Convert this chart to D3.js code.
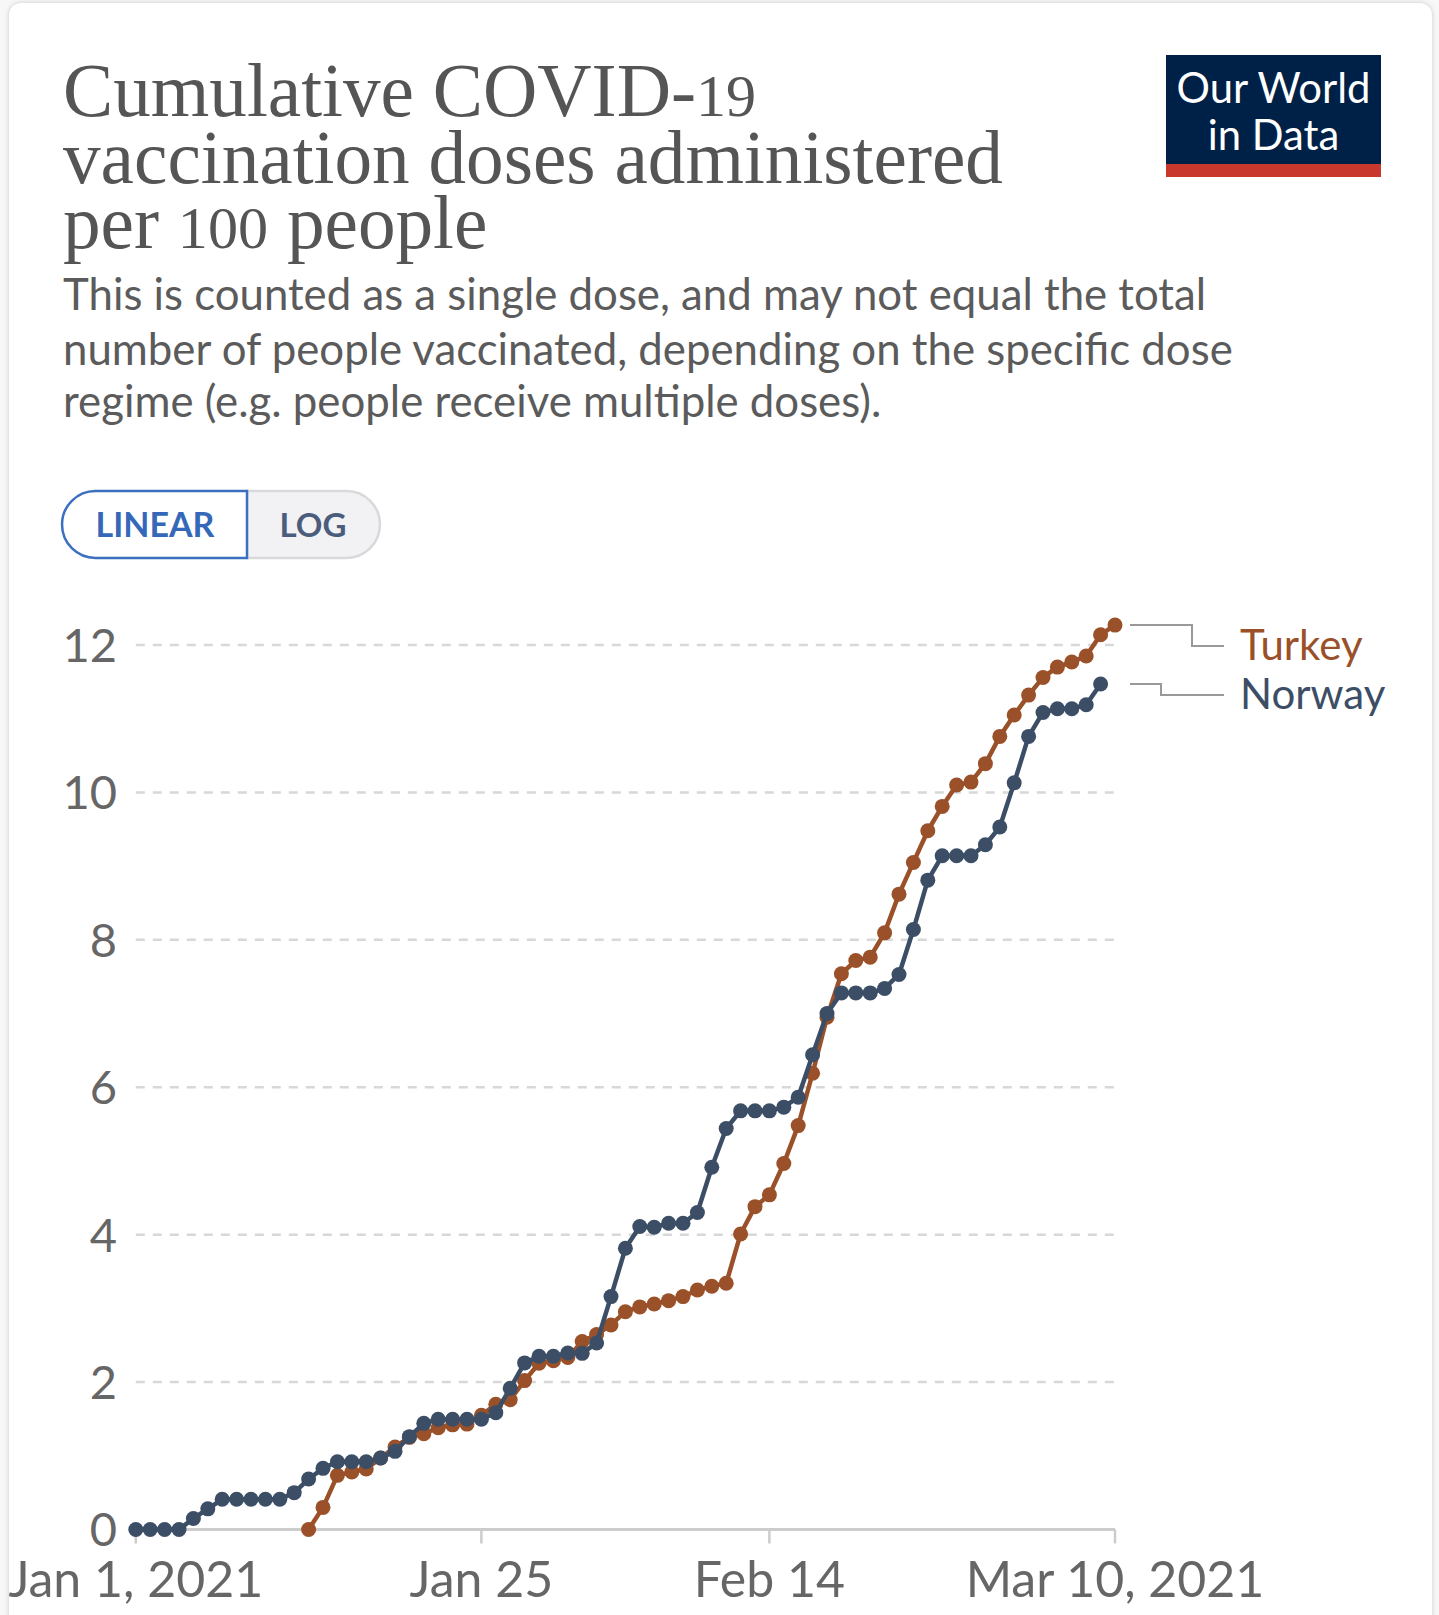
<!DOCTYPE html>
<html lang="en">
<head>
<meta charset="UTF-8">
<script src="https://d3js.org/d3.v7.min.js"></script>
<title>Cumulative COVID-19 vaccination doses administered per 100 people</title>
<style>
  html, body { margin: 0; padding: 0; background: #f7f7f7; }
  body { width: 1439px; height: 1615px; position: relative; overflow: hidden; font-family: Lato, "Noto Sans", sans-serif; }
  .card { position: absolute; left: 9px; top: 3px; width: 1423px; height: 1640px; background: #fff; border-radius: 12px; box-shadow: 0 0 5px rgba(0,0,0,0.18); }
  svg { position: absolute; left: 0; top: 0; }
</style>
</head>
<body>
<div class="card"></div>
<svg width="1439" height="1615"></svg>
<script>
// data (doses per 100 people, one value per day)
const norwayStart = "2021-01-01"
const norwayValues = [0, 0, 0, 0, 0.15, 0.28, 0.41, 0.41, 0.41, 0.41, 0.41, 0.5, 0.685, 0.83, 0.92, 0.92, 0.92, 0.97, 1.06, 1.26,
  1.44, 1.495, 1.495, 1.495, 1.495, 1.585, 1.915, 2.26, 2.35, 2.35, 2.395, 2.39, 2.53, 3.16, 3.815, 4.11, 4.10, 4.155, 4.155, 4.30,
  4.915, 5.44, 5.68, 5.68, 5.68, 5.73, 5.865, 6.44, 7.00, 7.28, 7.28, 7.28, 7.34, 7.53, 8.14, 8.81, 9.14, 9.14, 9.14, 9.29,
  9.53, 10.13, 10.76, 11.085, 11.135, 11.135, 11.19, 11.47]
const turkeyStart = "2021-01-13"
const turkeyValues = [0, 0.30, 0.735, 0.78, 0.82, 0.97, 1.12, 1.25, 1.30, 1.38, 1.42, 1.43, 1.55, 1.70, 1.76, 2.02, 2.255, 2.29, 2.335, 2.55,
  2.645, 2.775, 2.955, 3.02, 3.06, 3.105, 3.16, 3.25, 3.30, 3.34, 4.01, 4.38, 4.54, 4.965, 5.48, 6.19, 6.95, 7.54, 7.72, 7.765,
  8.095, 8.62, 9.05, 9.48, 9.81, 10.10, 10.14, 10.39, 10.76, 11.05, 11.32, 11.56, 11.70, 11.77, 11.85, 12.14, 12.27]
const yTicks = [0, 2, 4, 6, 8, 10, 12]
const xTicks = ["2021-01-01", "2021-01-25", "2021-02-14", "2021-03-10"]
const xTickLabels = ["Jan 1, 2021", "Jan 25", "Feb 14", "Mar 10, 2021"]

const parse = d3.timeParse("%Y-%m-%d")
const toSeries = (start, values) => values.map((v, i) => ({ date: d3.timeDay.offset(parse(start), i), value: v }))

const series = [
  { name: "Turkey", color: "#9a5129", points: toSeries(turkeyStart, turkeyValues), labelY: 646, elbowX: 1192 },
  { name: "Norway", color: "#3c4e66", points: toSeries(norwayStart, norwayValues), labelY: 695, elbowX: 1161 }
]

const svg = d3.select("svg")

// fit a text line to a width measured in the reference
const fitWidth = (sel, w) => {
  const len = sel.node().getComputedTextLength()
  const fs = parseFloat(sel.attr("font-size"))
  sel.attr("font-size", fs * w / len)
  return fs * w / len
}

// header - digits drawn smaller to look like the old-style figures of the original
const titleLines = [["Cumulative COVID-", "19", ""], ["vaccination doses administered", "", ""], ["per ", "100", " people"]]
const titleBase = [116, 183, 248]
const title = svg.append("g")
  .attr("font-family", "'Liberation Serif', 'DejaVu Serif', serif")
  .attr("fill", "#555")
const t2 = title.append("text").attr("x", 63).attr("y", titleBase[1]).attr("font-size", 60).text(titleLines[1][0])
const titleSize = fitWidth(t2, 940)
;[0, 2].forEach(i => {
  const t = title.append("text").attr("x", 63).attr("y", titleBase[i]).attr("font-size", titleSize)
  t.append("tspan").text(titleLines[i][0])
  t.append("tspan").attr("font-size", titleSize * 0.8).text(titleLines[i][1])
  t.append("tspan").text(titleLines[i][2])
})

const subLines = ["This is counted as a single dose, and may not equal the total",
  "number of people vaccinated, depending on the specific dose",
  "regime (e.g. people receive multiple doses)."]
const subBase = [310, 365, 417]
const sub = svg.append("g").attr("fill", "#5b5b5b")
const s2 = sub.append("text").attr("x", 63).attr("y", subBase[1]).attr("font-size", 37).text(subLines[1])
const subSize = fitWidth(s2, 1170)
sub.append("text").attr("x", 63).attr("y", subBase[0]).attr("font-size", subSize).text(subLines[0])
sub.append("text").attr("x", 63).attr("y", subBase[2]).attr("font-size", subSize).text(subLines[2])

// logo
const logo = svg.append("g")
logo.append("rect").attr("x", 1166).attr("y", 55).attr("width", 215).attr("height", 122).attr("fill", "#002147")
logo.append("rect").attr("x", 1166).attr("y", 164).attr("width", 215).attr("height", 13).attr("fill", "#c8382c")
const l1 = logo.append("text").attr("x", 1273.5).attr("y", 103).attr("text-anchor", "middle")
  .attr("fill", "#fff").attr("font-size", 44).text("Our World")
const logoSize = fitWidth(l1, 194)
logo.append("text").attr("x", 1273.5).attr("y", 150).attr("text-anchor", "middle")
  .attr("fill", "#fff").attr("font-size", logoSize).text("in Data")

// linear / log toggle
const btn = svg.append("g")
const bx0 = 62, bx1 = 247, bx2 = 380, by0 = 491, by1 = 558, br = (by1 - by0) / 2
btn.append("path")
  .attr("d", `M${bx1},${by0} H${bx2 - br} A${br},${br} 0 0 1 ${bx2 - br},${by1} H${bx1} Z`)
  .attr("fill", "#f2f2f4").attr("stroke", "#d9d9dc").attr("stroke-width", 2.5)
btn.append("path")
  .attr("d", `M${bx1},${by0} H${bx0 + br} A${br},${br} 0 0 0 ${bx0 + br},${by1} H${bx1} Z`)
  .attr("fill", "#fff").attr("stroke", "#3b6fbf").attr("stroke-width", 2.5)
btn.append("text").attr("x", 155).attr("y", 537).attr("text-anchor", "middle")
  .attr("font-size", 34).attr("font-weight", 700).attr("fill", "#3568b8").text("LINEAR")
btn.append("text").attr("x", 313).attr("y", 537).attr("text-anchor", "middle")
  .attr("font-size", 33).attr("font-weight", 700).attr("fill", "#4b5d7c").text("LOG")

// scales
const x = d3.scaleTime()
  .domain([parse(xTicks[0]), parse(xTicks[xTicks.length - 1])])
  .range([135.8, 1115])
const y = d3.scaleLinear()
  .domain([0, 12])
  .range([1529.5, 645])

// grid + y labels
const grid = svg.append("g")
grid.selectAll("line")
  .data(yTicks.filter(d => d > 0))
  .enter()
  .append("line")
  .attr("x1", x.range()[0]).attr("x2", x.range()[1])
  .attr("y1", d => y(d)).attr("y2", d => y(d))
  .attr("stroke", "#d8d8d8").attr("stroke-width", 2.5).attr("stroke-dasharray", "9,8")
grid.selectAll("text")
  .data(yTicks)
  .enter()
  .append("text")
  .attr("x", 117).attr("y", d => y(d)).attr("dy", "0.36em")
  .attr("text-anchor", "end").attr("font-size", 47).attr("fill", "#666")
  .text(d => d)

// x axis
const xAxis = svg.append("g")
xAxis.append("line")
  .attr("x1", x.range()[0]).attr("x2", x.range()[1])
  .attr("y1", y(0)).attr("y2", y(0))
  .attr("stroke", "#ccc").attr("stroke-width", 3)
xAxis.selectAll(".tick")
  .data(xTicks)
  .enter()
  .append("line")
  .attr("x1", d => x(parse(d))).attr("x2", d => x(parse(d)))
  .attr("y1", y(0)).attr("y2", y(0) + 14)
  .attr("stroke", "#ccc").attr("stroke-width", 2.5)
xAxis.selectAll("text")
  .data(xTicks)
  .enter()
  .append("text")
  .attr("x", d => x(parse(d))).attr("y", 1597)
  .attr("text-anchor", "middle").attr("font-size", 50).attr("fill", "#666")
  .text((d, i) => xTickLabels[i])

// lines + markers
const line = d3.line().x(d => x(d.date)).y(d => y(d.value))
const plot = svg.append("g")
series.forEach(s => {
  const g = plot.append("g")
  g.append("path")
    .attr("d", line(s.points))
    .attr("fill", "none").attr("stroke", s.color).attr("stroke-width", 4.5).attr("stroke-linejoin", "round")
  g.selectAll("circle")
    .data(s.points)
    .enter()
    .append("circle")
    .attr("cx", d => x(d.date)).attr("cy", d => y(d.value)).attr("r", 7.5)
    .attr("fill", s.color)
})

// end labels
const legend = svg.append("g")
series.forEach(s => {
  const last = s.points[s.points.length - 1]
  const ly = y(last.value)
  legend.append("path")
    .attr("d", `M1130,${ly} H${s.elbowX} V${s.labelY} H1224`)
    .attr("fill", "none").attr("stroke", "#999").attr("stroke-width", 2)
  legend.append("text")
    .attr("x", 1240).attr("y", s.labelY).attr("dy", "0.33em")
    .attr("font-size", 42).attr("fill", s.color)
    .text(s.name)
})
</script>
</body>
</html>
